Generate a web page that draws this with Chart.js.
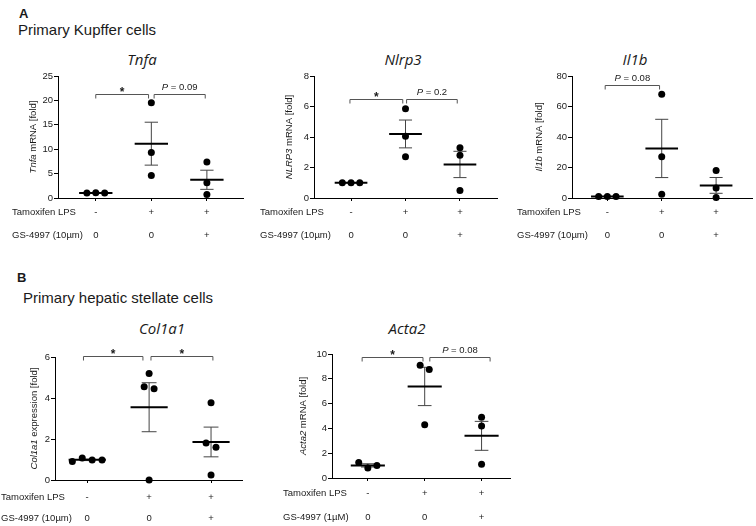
<!DOCTYPE html>
<html>
<head>
<meta charset="utf-8">
<script src="https://cdn.jsdelivr.net/npm/chart.js@4.4.1/dist/chart.umd.min.js"></script>
<style>
  body { margin:0; width:756px; height:526px; position:relative; overflow:hidden; background:#fff;
         font-family:"Liberation Sans", Arial, sans-serif; color:#1a1a1a; }
  .t { position:absolute; white-space:nowrap; line-height:1; transform:translate(0,-50%); }
  .c { transform:translate(-50%,-50%); }
  .letter { font-weight:bold; font-size:13px; }
  .head { font-size:15px; }
  .gene { font-family:"Open Sans", sans-serif; font-style:italic; font-size:15px; }
  canvas { position:absolute; }
</style>
</head>
<body>
<div class="t letter" style="left:19px;top:13px">A</div>
<div class="t head" style="left:18px;top:29px">Primary Kupffer cells</div>
<div class="t c gene" style="left:142px;top:59px">Tnfa</div>
<div class="t c gene" style="left:403px;top:59px">Nlrp3</div>
<div class="t c gene" style="left:635px;top:59px">Il1b</div>

<div class="t letter" style="left:17px;top:277px">B</div>
<div class="t head" style="left:23px;top:297px">Primary hepatic stellate cells</div>
<div class="t c gene" style="left:162px;top:328px">Col1a1</div>
<div class="t c gene" style="left:407px;top:328px">Acta2</div>

<canvas id="c-tnfa"></canvas>
<canvas id="c-nlrp3"></canvas>
<canvas id="c-il1b"></canvas>
<canvas id="c-col1a1"></canvas>
<canvas id="c-acta2"></canvas>

<script>
// ------------------------------------------------------------
//  Datos
// ------------------------------------------------------------
const tamoxifenRow = ['-', '+', '+']
const gsRow        = ['0', '0', '+']
const rowLabel     = 'Tamoxifen LPS'
const gsLabel10    = 'GS-4997 (10µm)'
const gsLabel1     = 'GS-4997 (1µM)'

const tnfaCtrl   = [1.0, 1.1, 1.0]
const tnfaLps    = [19.5, 9.3, 4.6]
const tnfaLpsGs  = [7.4, 3.1, 0.7]
const tnfaTicks  = [0, 5, 10, 15, 20, 25]
const tnfaStats  = [[1, 1.95, 21.3, '*'], [2.05, 2.97, 21.3, 'P = 0.09']]

const nlrp3Ctrl  = [1.0, 1.0, 1.0]
const nlrp3Lps   = [5.85, 4.05, 2.7]
const nlrp3LpsGs = [3.3, 2.8, 0.5]
const nlrp3Ticks = [0, 2, 4, 6, 8]
const nlrp3Stats = [[0.98, 1.95, 6.5, '*'], [2.02, 2.95, 6.5, 'P = 0.2']]

const il1bCtrl   = [1.0, 1.0, 1.0]
const il1bLps    = [68, 27, 2.5]
const il1bLpsGs  = [18, 6.5, 0.3]
const il1bTicks  = [0, 20, 40, 60, 80]
const il1bStats  = [[0.96, 1.96, 74, 'P = 0.08']]

const col1a1Ctrl   = [0.9, 1.07, 0.98, 0.98]
const col1a1Lps    = [5.2, 4.55, 4.45, 0.0]
const col1a1LpsGs  = [3.77, 1.8, 1.6, 0.25]
const col1a1Ticks  = [0, 2, 4, 6]
const col1a1Stats  = [[0.94, 1.9, 6.05, '*'], [2.03, 3.03, 6.05, '*']]

const acta2Ctrl   = [1.25, 0.8, 1.0]
const acta2Lps    = [9.1, 8.75, 4.3]
const acta2LpsGs  = [4.9, 4.2, 1.1]
const acta2Ticks  = [0, 2, 4, 6, 8, 10]
const acta2Stats  = [[0.9, 1.97, 9.75, '*'], [2.09, 3.15, 9.75, 'P = 0.08']]

const FONT = '"Liberation Sans", Arial, sans-serif'
const INK  = '#1a1a1a'
const YW = 30   // ancho fijo del eje y
const XH = 4    // alto fijo del eje x

// ------------------------------------------------------------
//  Paneles: datos + ubicacion en la pagina
// ------------------------------------------------------------
const panels = [
  { id: 'c-tnfa', groups: [tnfaCtrl, tnfaLps, tnfaLpsGs], ticks: tnfaTicks, stats: tnfaStats,
    yTitle: [['Tnfa', true], [' mRNA [fold]', false]], gsLabel: gsLabel10,
    box: [0, 40, 252, 210], area: [58, 76, 243, 198], xRange: [0.32, 3.65],
    labelX: 12, rowY: [14, 37], titleGap: 25 },
  { id: 'c-nlrp3', groups: [nlrp3Ctrl, nlrp3Lps, nlrp3LpsGs], ticks: nlrp3Ticks, stats: nlrp3Stats,
    yTitle: [['NLRP3', true], [' mRNA [fold]', false]], gsLabel: gsLabel10,
    box: [252, 40, 253, 210], area: [314, 76, 497, 198], xRange: [0.32, 3.68],
    labelX: 260, rowY: [14, 37], titleGap: 25 },
  { id: 'c-il1b', groups: [il1bCtrl, il1bLps, il1bLpsGs], ticks: il1bTicks, stats: il1bStats,
    yTitle: [['Il1b', true], [' mRNA [fold]', false]], gsLabel: gsLabel10,
    box: [505, 40, 251, 210], area: [572, 76, 756, 198], xRange: [0.35, 3.66],
    labelX: 517, rowY: [14, 37], titleGap: 33 },
  { id: 'c-col1a1', groups: [col1a1Ctrl, col1a1Lps, col1a1LpsGs], ticks: col1a1Ticks, stats: col1a1Stats,
    yTitle: [['Col1a1', true], [' expression [fold]', false]], gsLabel: gsLabel10,
    box: [0, 305, 252, 221], area: [55, 357, 242, 480], xRange: [0.48, 3.5],
    labelX: 1, rowY: [17, 38], titleGap: 21 },
  { id: 'c-acta2', groups: [acta2Ctrl, acta2Lps, acta2LpsGs], ticks: acta2Ticks, stats: acta2Stats,
    yTitle: [['Acta2', true], [' mRNA [fold]', false]], gsLabel: gsLabel1,
    box: [252, 305, 262, 221], area: [332, 354, 514, 478], xRange: [0.37, 3.5],
    labelX: 283, rowY: [15, 39], titleGap: 29 },
]

// ------------------------------------------------------------
//  Media y error estandar
// ------------------------------------------------------------
function meanSem(vals) {
  const n = vals.length
  const m = vals.reduce((a, b) => a + b, 0) / n
  const sd = Math.sqrt(vals.reduce((a, v) => a + (v - m) ** 2, 0) / (n - 1))
  return { m, sem: sd / Math.sqrt(n) }
}

// separa horizontalmente los puntos con valores casi iguales
function swarm(vals, gx, yMax) {
  const order = vals.map((v, i) => i).sort((a, b) => vals[a] - vals[b])
  const out = []
  let cluster = []
  const flush = () => {
    cluster.sort((a, b) => a - b)
    cluster.forEach((i, k) => {
      out[i] = { x: gx + (k - (cluster.length - 1) / 2) * 0.16, y: vals[i] }
    })
    cluster = []
  }
  order.forEach(i => {
    if (cluster.length && vals[i] - vals[cluster[cluster.length - 1]] > yMax * 0.05) flush()
    cluster.push(i)
  })
  flush()
  return out
}

// ------------------------------------------------------------
//  Plugin: media/SEM, corchetes, filas de tratamiento, titulo y
// ------------------------------------------------------------
function dotPlotPlugin(p) {
  return {
    id: 'dotPlot',
    beforeDatasetsDraw(chart) {
      const { ctx } = chart
      const x = chart.scales.x, y = chart.scales.y
      ctx.save()
      p.groups.forEach((vals, g) => {
        const { m, sem } = meanSem(vals)
        const cx = x.getPixelForValue(g + 1)
        const wMean = x.getPixelForValue(g + 1.3) - cx
        const wCap  = x.getPixelForValue(g + 1.12) - cx
        const yTop = y.getPixelForValue(m + sem)
        const yBot = y.getPixelForValue(m - sem)
        ctx.strokeStyle = '#444'
        ctx.lineWidth = 1
        ctx.beginPath()
        ctx.moveTo(cx, yTop); ctx.lineTo(cx, yBot)
        ctx.moveTo(cx - wCap, yTop); ctx.lineTo(cx + wCap, yTop)
        ctx.moveTo(cx - wCap, yBot); ctx.lineTo(cx + wCap, yBot)
        ctx.stroke()
        const ym = y.getPixelForValue(m)
        ctx.strokeStyle = '#000'
        ctx.lineWidth = 2
        ctx.beginPath()
        ctx.moveTo(cx - wMean, ym); ctx.lineTo(cx + wMean, ym)
        ctx.stroke()
      })
      ctx.restore()
    },
    afterDraw(chart) {
      const { ctx, chartArea } = chart
      const x = chart.scales.x, y = chart.scales.y
      ctx.save()

      // corchetes de significancia
      p.stats.forEach(([from, to, val, label]) => {
        const x1 = x.getPixelForValue(from), x2 = x.getPixelForValue(to)
        const yy = Math.round(y.getPixelForValue(val)) + 0.5
        ctx.strokeStyle = '#555'
        ctx.lineWidth = 1
        ctx.beginPath()
        ctx.moveTo(x1, yy + 4); ctx.lineTo(x1, yy); ctx.lineTo(x2, yy); ctx.lineTo(x2, yy + 4)
        ctx.stroke()
        ctx.fillStyle = INK
        ctx.textBaseline = 'bottom'
        const mid = (x1 + x2) / 2
        if (label === '*') {
          ctx.font = 'bold 12px ' + FONT
          ctx.textAlign = 'center'
          ctx.fillText('*', mid, yy + 4)
        } else {
          const rest = label.slice(1)
          ctx.font = 'italic 9.5px ' + FONT
          const wP = ctx.measureText('P').width
          ctx.font = '9.5px ' + FONT
          const wR = ctx.measureText(rest).width
          const sx = mid - (wP + wR) / 2
          ctx.textAlign = 'left'
          ctx.font = 'italic 9.5px ' + FONT
          ctx.fillText('P', sx, yy - 2)
          ctx.font = '9.5px ' + FONT
          ctx.fillText(rest, sx + wP, yy - 2)
        }
      })

      // filas de tratamiento
      ctx.font = '9.5px ' + FONT
      ctx.fillStyle = INK
      ctx.textBaseline = 'middle'
      const rows = [[rowLabel, tamoxifenRow], [p.gsLabel, gsRow]]
      rows.forEach(([name, marks], r) => {
        const ry = chartArea.bottom + p.rowY[r]
        ctx.textAlign = 'left'
        ctx.fillText(name, p.labelX - p.box[0], ry)
        ctx.textAlign = 'center'
        marks.forEach((mk, g) => ctx.fillText(mk, x.getPixelForValue(g + 1), ry))
      })

      // titulo del eje y (parte en cursiva)
      const tx = chartArea.left - p.titleGap
      const ty = (chartArea.top + chartArea.bottom) / 2
      const fontOf = it => (it ? 'italic ' : '') + '9.5px ' + FONT
      let total = 0
      p.yTitle.forEach(([s, it]) => { ctx.font = fontOf(it); total += ctx.measureText(s).width })
      ctx.translate(tx, ty)
      ctx.rotate(-Math.PI / 2)
      ctx.textAlign = 'left'
      let cur = -total / 2
      p.yTitle.forEach(([s, it]) => {
        ctx.font = fontOf(it)
        ctx.fillText(s, cur, 0)
        cur += ctx.measureText(s).width
      })
      ctx.restore()
    }
  }
}

// ------------------------------------------------------------
//  Crear cada grafico
// ------------------------------------------------------------
function makePanel(p) {
  const canvas = document.getElementById(p.id)
  const [bx, by, bw, bh] = p.box
  const [al, at, ar, ab] = p.area
  canvas.width = bw; canvas.height = bh
  canvas.style.left = bx + 'px'; canvas.style.top = by + 'px'
  canvas.style.width = bw + 'px'; canvas.style.height = bh + 'px'

  const yMax = p.ticks[p.ticks.length - 1]
  const points = p.groups.flatMap((vals, g) => swarm(vals, g + 1, yMax))

  new Chart(canvas, {
    type: 'scatter',
    data: {
      datasets: [{
        data: points,
        backgroundColor: '#000',
        borderColor: '#000',
        pointRadius: 3.5,
        borderWidth: 0,
        clip: false,
      }]
    },
    options: {
      responsive: false,
      animation: false,
      devicePixelRatio: 1,
      layout: { padding: { left: al - bx - YW, top: at - by, right: bx + bw - ar, bottom: by + bh - ab - XH } },
      plugins: { legend: { display: false }, tooltip: { enabled: false } },
      scales: {
        x: {
          type: 'linear',
          min: p.xRange[0], max: p.xRange[1],
          afterBuildTicks: s => { s.ticks = [1, 2, 3].map(v => ({ value: v })) },
          afterFit: s => { s.height = XH },
          ticks: { display: false },
          grid: { drawOnChartArea: false, drawTicks: true, tickLength: 3, color: '#000' },
          border: { display: true, color: '#000', width: 1 },
        },
        y: {
          min: 0, max: yMax,
          afterBuildTicks: s => { s.ticks = p.ticks.map(v => ({ value: v })) },
          afterFit: s => { s.width = YW },
          ticks: { color: INK, padding: 1, font: { family: FONT, size: 9.5 } },
          grid: { drawOnChartArea: false, drawTicks: true, tickLength: 4, color: '#000' },
          border: { display: true, color: '#000', width: 1 },
        }
      }
    },
    plugins: [dotPlotPlugin(p)]
  })
}

panels.forEach(makePanel)
</script>
</body>
</html>
